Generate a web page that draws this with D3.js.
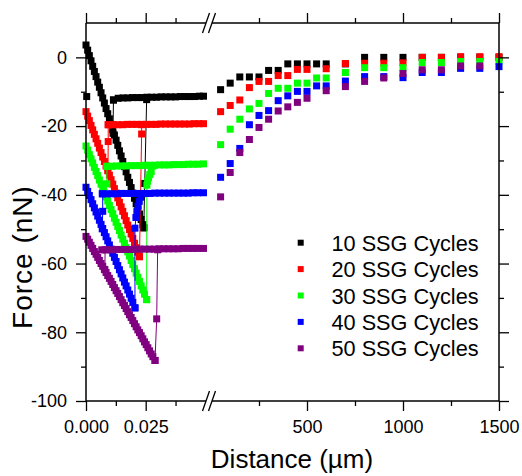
<!DOCTYPE html>
<html>
<head>
<meta charset="utf-8">
<script src="https://cdn.jsdelivr.net/npm/d3@7"></script>
<style>
body { margin: 0; background: #fff; }
text { font-family: "Liberation Sans", Arial, sans-serif; }
</style>
</head>
<body>
<svg id="chart" width="522" height="476"></svg>
<script>
// series labels and colours
var names = ["10 SSG Cycles", "20 SSG Cycles", "30 SSG Cycles", "40 SSG Cycles", "50 SSG Cycles"];
var colors = ["#000000", "#ff0000", "#00ff00", "#0000ff", "#800080"];

// axis ticks
var yMajor = [-100, -80, -60, -40, -20, 0];
var yMinor = [-90, -70, -50, -30, -10];
var nearMajor = [0, 0.025];
var nearMinor = [0.0125, 0.0375];
var farMajor = [500, 1000, 1500];
var farMinor = [250, 750, 1250];

// ---- near segment (distance in um, 0 - 0.05) ----
// approach curves
var approach10 = [[0,3.6],[.0007,2.1],[.0014,0.5],[.0021,-1.0],[.0028,-2.6],[.0035,-4.1],[.0042,-5.6],[.0049,-7.2],[.0056,-8.7],[.0063,-10.3],[.0070,-11.8],[.0077,-13.3],[.0084,-14.9],[.0091,-16.4],[.0098,-17.9],[.0105,-19.5],[.0112,-21.0],[.0119,-22.6],[.0126,-24.1],[.0133,-25.6],[.0140,-27.2],[.0147,-28.7],[.0154,-30.3],[.0161,-31.8],[.0168,-33.3],[.0175,-34.9],[.0182,-36.4],[.0189,-37.9],[.0196,-39.5],[.0203,-41.0],[.0210,-42.6],[.0217,-44.1],[.0224,-45.6],[.0231,-47.2],[.0238,-48.7],[.0242,-49.6]];
var approach20 = [[0,-15.8],[.0007,-17.1],[.0014,-18.4],[.0021,-19.8],[.0028,-21.1],[.0035,-22.4],[.0042,-23.7],[.0049,-25.0],[.0056,-26.4],[.0063,-27.7],[.0070,-29.0],[.0077,-30.3],[.0084,-31.6],[.0091,-33.0],[.0098,-34.3],[.0105,-35.6],[.0112,-36.9],[.0119,-38.2],[.0126,-39.5],[.0133,-40.9],[.0140,-42.2],[.0147,-43.5],[.0154,-44.8],[.0161,-46.1],[.0168,-47.5],[.0175,-48.8],[.0182,-50.1],[.0189,-51.4],[.0196,-52.7],[.0203,-54.1],[.0210,-55.4],[.0217,-56.7],[.0224,-58.0]];
var approach30 = [[0,-25.8],[.0007,-27.0],[.0014,-28.3],[.0021,-29.5],[.0028,-30.7],[.0035,-32.0],[.0042,-33.2],[.0049,-34.4],[.0056,-35.7],[.0063,-36.9],[.0070,-38.1],[.0077,-39.4],[.0084,-40.6],[.0091,-41.8],[.0098,-43.1],[.0105,-44.3],[.0112,-45.5],[.0119,-46.8],[.0126,-48.0],[.0133,-49.2],[.0140,-50.4],[.0147,-51.7],[.0154,-52.9],[.0161,-54.1],[.0168,-55.4],[.0175,-56.6],[.0182,-57.8],[.0189,-59.1],[.0196,-60.3],[.0203,-61.5],[.0210,-62.8],[.0217,-64.0],[.0224,-65.2],[.0231,-66.5],[.0238,-67.7],[.0245,-68.9],[.0254,-70.5]];
var approach40 = [[0,-37.8],[.0007,-39.0],[.0014,-40.2],[.0021,-41.4],[.0028,-42.6],[.0035,-43.8],[.0042,-45.0],[.0049,-46.2],[.0056,-47.4],[.0063,-48.6],[.0070,-49.8],[.0077,-51.0],[.0084,-52.2],[.0091,-53.4],[.0098,-54.6],[.0105,-55.8],[.0112,-57.0],[.0119,-58.2],[.0126,-59.4],[.0133,-60.6],[.0140,-61.8],[.0147,-63.0],[.0154,-64.2],[.0161,-65.4],[.0168,-66.5],[.0175,-67.7],[.0182,-68.9],[.0189,-70.1],[.0196,-71.3],[.0205,-72.9]];
var approach50 = [[0,-52.1],[.0007,-52.9],[.0014,-53.8],[.0021,-54.7],[.0028,-55.6],[.0035,-56.5],[.0042,-57.3],[.0049,-58.2],[.0056,-59.1],[.0063,-60.0],[.0070,-60.8],[.0077,-61.7],[.0084,-62.6],[.0091,-63.5],[.0098,-64.3],[.0105,-65.2],[.0112,-66.1],[.0119,-67.0],[.0126,-67.9],[.0133,-68.7],[.0140,-69.6],[.0147,-70.5],[.0154,-71.4],[.0161,-72.2],[.0168,-73.1],[.0175,-74.0],[.0182,-74.9],[.0189,-75.7],[.0196,-76.6],[.0203,-77.5],[.0210,-78.4],[.0217,-79.3],[.0224,-80.1],[.0231,-81.0],[.0238,-81.9],[.0245,-82.8],[.0252,-83.6],[.0259,-84.5],[.0266,-85.4],[.0273,-86.3],[.0280,-87.1],[.0289,-88.2]];

// retract plateaus
var flat10 = [[.0115,-12.4],[.0135,-11.9],[.0155,-11.8],[.0175,-11.8],[.0195,-11.7],[.0215,-11.7],[.0235,-11.7],[.0255,-11.6],[.0275,-11.6],[.0295,-11.6],[.0315,-11.5],[.0335,-11.5],[.0355,-11.5],[.0375,-11.5],[.0395,-11.4],[.0415,-11.4],[.0435,-11.4],[.0455,-11.4],[.0475,-11.3],[.0492,-11.3]];
var flat20 = [[.0093,-19.6],[.0113,-19.6],[.0133,-19.6],[.0153,-19.6],[.0173,-19.5],[.0193,-19.5],[.0213,-19.5],[.0233,-19.5],[.0253,-19.5],[.0273,-19.5],[.0293,-19.5],[.0313,-19.4],[.0333,-19.4],[.0353,-19.4],[.0373,-19.4],[.0393,-19.4],[.0413,-19.4],[.0433,-19.4],[.0453,-19.3],[.0473,-19.3],[.0492,-19.3]];
var flat30 = [[.0088,-31.7],[.0108,-31.7],[.0128,-31.6],[.0148,-31.6],[.0168,-31.6],[.0188,-31.5],[.0208,-31.5],[.0228,-31.5],[.0248,-31.4],[.0268,-31.4],[.0288,-31.4],[.0308,-31.3],[.0328,-31.3],[.0348,-31.3],[.0368,-31.2],[.0388,-31.2],[.0408,-31.2],[.0428,-31.1],[.0448,-31.1],[.0468,-31.1],[.0492,-31.0]];
var flat40 = [[.0068,-39.7],[.0088,-39.7],[.0108,-39.7],[.0128,-39.7],[.0148,-39.6],[.0168,-39.6],[.0188,-39.6],[.0208,-39.6],[.0228,-39.6],[.0248,-39.6],[.0268,-39.6],[.0288,-39.5],[.0308,-39.5],[.0328,-39.5],[.0348,-39.5],[.0368,-39.5],[.0388,-39.5],[.0408,-39.5],[.0428,-39.5],[.0448,-39.4],[.0468,-39.4],[.0492,-39.4]];
var flat50 = [[.0066,-56.0],[.0086,-56.0],[.0106,-56.0],[.0126,-55.9],[.0146,-55.9],[.0166,-55.9],[.0186,-55.9],[.0206,-55.8],[.0226,-55.8],[.0246,-55.8],[.0266,-55.8],[.0286,-55.8],[.0306,-55.7],[.0326,-55.7],[.0346,-55.7],[.0366,-55.7],[.0386,-55.7],[.0406,-55.6],[.0426,-55.6],[.0446,-55.6],[.0466,-55.6],[.0492,-55.6]];

// jumps joining approach and plateau
var links10 = [[[.0003,-11.4]], [[.0115,-12.4],[.0113,-22.1]], [[.0242,-49.6],[.0246,-36.7],[.0254,-12.3]]];
var links20 = [[[.0093,-19.6],[.0093,-24.5],[.0092,-32.2]], [[.0224,-58.0],[.0233,-22.3],[.0233,-19.6]]];
var links30 = [[[.0088,-31.7],[.0087,-36.8],[.0085,-40.1]], [[.0254,-70.5],[.0255,-37.2],[.0258,-36.0],[.0262,-35.0],[.0267,-34.1],[.0273,-33.3],[.0280,-31.6]]];
var links40 = [[[.0070,-39.7],[.0070,-44.8],[.0068,-49.9]], [[.0205,-72.9],[.0205,-49.7],[.0209,-46.6],[.0213,-44.9],[.0218,-43.3],[.0223,-41.9],[.0229,-40.7],[.0235,-39.7]]];
var links50 = [[[.0080,-56.0],[.0079,-61.8]], [[.0289,-88.2],[.0296,-76.1],[.0300,-56.0]]];

// ---- far segment (distance in um, 0 - 1500) ----
var far10 = [[50,-9.4],[100,-7.5],[150,-5.7],[200,-5.7],[250,-5.7],[300,-3.8],[350,-3.8],[400,-1.9],[450,-1.9],[500,-1.9],[550,-1.9],[600,-1.9],[700,-1.9],[800,0],[900,0],[1000,0],[1100,0],[1200,0],[1300,0],[1400,0],[1500,0]];
var far20 = [[50,-15.8],[100,-14.0],[150,-12.4],[200,-8.8],[250,-7.0],[300,-7.0],[350,-5.3],[400,-5.3],[450,-3.5],[500,-3.5],[600,-3.3],[700,-1.8],[800,-1.7],[900,-1.7],[1000,-1.6],[1100,0],[1200,0],[1300,0.2],[1400,0.2],[1500,0.2]];
var far30 = [[50,-25.4],[100,-20.9],[150,-18.0],[200,-15.0],[250,-13.4],[300,-10.5],[350,-9.0],[400,-9.0],[450,-7.5],[500,-7.5],[550,-6.0],[600,-6.0],[700,-4.4],[800,-3.0],[900,-3.0],[1000,-3.0],[1100,-1.5],[1200,-1.5],[1300,-1.2],[1400,-1.2],[1500,-1.2]];
var far40 = [[50,-34.9],[100,-30.9],[150,-26.5],[200,-19.6],[250,-16.9],[300,-15.5],[350,-12.6],[400,-11.2],[450,-9.9],[500,-9.9],[550,-8.3],[600,-8.3],[700,-6.9],[800,-5.6],[900,-5.6],[1000,-5.9],[1100,-4.4],[1200,-4.4],[1300,-3.2],[1400,-3.2],[1500,-2.7]];
var far50 = [[50,-40.6],[100,-33.5],[150,-27.7],[200,-23.9],[250,-20.4],[300,-18.0],[350,-15.6],[400,-14.4],[450,-13.1],[500,-11.9],[600,-9.7],[700,-8.5],[800,-7.0],[900,-6.0],[1000,-4.7],[1100,-3.6],[1200,-3.6],[1300,-2.5],[1400,-2.5]];

var series = [
    {approach: approach10, flat: flat10, links: links10, far: far10},
    {approach: approach20, flat: flat20, links: links20, far: far20},
    {approach: approach30, flat: flat30, links: links30, far: far30},
    {approach: approach40, flat: flat40, links: links40, far: far40},
    {approach: approach50, flat: flat50, links: links50, far: far50}
];

var svg = d3.select("#chart");
var pLeft = 86, pRight = 499, pTop = 23, pBottom = 401;
var breakLeft = 206, breakRight = 212;

var xNear = d3.scaleLinear().domain([0, 0.05]).range([pLeft, 205.4]);
var xFar = d3.scaleLinear().domain([0, 1500]).range([211, pRight]);
var y = d3.scaleLinear().domain([-100, 10]).range([pBottom, pTop]);

var sq = 7;

function drawSquares(g, pts, xs, color) {
    g.selectAll(null)
        .data(pts)
        .enter().append("rect")
        .attr("x", function(d) { return xs(d[0]) - sq / 2; })
        .attr("y", function(d) { return y(d[1]) - sq / 2; })
        .attr("width", sq)
        .attr("height", sq)
        .attr("fill", color);
}

function drawLine(g, pts, xs, color) {
    var line = d3.line()
        .x(function(d) { return xs(d[0]); })
        .y(function(d) { return y(d[1]); });
    g.append("path")
        .attr("d", line(pts))
        .attr("fill", "none")
        .attr("stroke", color)
        .attr("stroke-width", 1);
}

var plot = svg.append("g");
series.forEach(function(s, i) {
    var g = plot.append("g");
    var c = colors[i];
    s.links.forEach(function(l) {
        if (l.length > 1) drawLine(g, l, xNear, c);
    });
    drawLine(g, s.approach, xNear, c);
    drawLine(g, s.flat, xNear, c);
    drawSquares(g, s.approach, xNear, c);
    drawSquares(g, s.flat, xNear, c);
    s.links.forEach(function(l) {
        drawSquares(g, l, xNear, c);
    });
    drawSquares(g, s.far, xFar, c);
});

// axes
var axisG = svg.append("g").attr("class", "axes");
var plainNum = function(d) { return String(d); };

function styleAxis(g) {
    g.select(".domain").remove();
    g.selectAll("line").attr("stroke", "#000").attr("stroke-width", 1.3);
    g.selectAll("text").attr("fill", "#000").style("font-size", "18px")
        .style("font-family", "'Liberation Sans', Arial, sans-serif");
}

// left / right y axes
axisG.append("g").attr("transform", "translate(" + pLeft + ",0)")
    .call(d3.axisLeft(y).tickValues(yMajor).tickSize(10).tickPadding(9).tickFormat(plainNum))
    .call(styleAxis);
axisG.append("g").attr("transform", "translate(" + pLeft + ",0)")
    .call(d3.axisLeft(y).tickValues(yMinor).tickSize(5).tickFormat(""))
    .call(styleAxis);
axisG.append("g").attr("transform", "translate(" + pRight + ",0)")
    .call(d3.axisRight(y).tickValues(yMajor).tickSize(10).tickFormat(""))
    .call(styleAxis);
axisG.append("g").attr("transform", "translate(" + pRight + ",0)")
    .call(d3.axisRight(y).tickValues(yMinor).tickSize(5).tickFormat(""))
    .call(styleAxis);

// bottom axes
axisG.append("g").attr("transform", "translate(0," + pBottom + ")")
    .call(d3.axisBottom(xNear).tickValues(nearMajor).tickSize(10).tickPadding(9).tickFormat(d3.format(".3f")))
    .call(styleAxis);
axisG.append("g").attr("transform", "translate(0," + pBottom + ")")
    .call(d3.axisBottom(xNear).tickValues(nearMinor).tickSize(5).tickFormat(""))
    .call(styleAxis);
axisG.append("g").attr("transform", "translate(0," + pBottom + ")")
    .call(d3.axisBottom(xFar).tickValues(farMajor).tickSize(10).tickPadding(9).tickFormat(plainNum))
    .call(styleAxis);
axisG.append("g").attr("transform", "translate(0," + pBottom + ")")
    .call(d3.axisBottom(xFar).tickValues(farMinor).tickSize(5).tickFormat(""))
    .call(styleAxis);

// top axes
axisG.append("g").attr("transform", "translate(0," + pTop + ")")
    .call(d3.axisTop(xNear).tickValues(nearMajor).tickSize(10).tickFormat(""))
    .call(styleAxis);
axisG.append("g").attr("transform", "translate(0," + pTop + ")")
    .call(d3.axisTop(xNear).tickValues(nearMinor).tickSize(5).tickFormat(""))
    .call(styleAxis);
axisG.append("g").attr("transform", "translate(0," + pTop + ")")
    .call(d3.axisTop(xFar).tickValues(farMajor).tickSize(10).tickFormat(""))
    .call(styleAxis);
axisG.append("g").attr("transform", "translate(0," + pTop + ")")
    .call(d3.axisTop(xFar).tickValues(farMinor).tickSize(5).tickFormat(""))
    .call(styleAxis);

// frame with the axis break
var frame = [
    [pLeft, pTop, pLeft, pBottom],
    [pRight, pTop, pRight, pBottom],
    [pLeft, pBottom, breakLeft, pBottom],
    [breakRight, pBottom, pRight, pBottom],
    [pLeft, pTop, breakLeft, pTop],
    [breakRight, pTop, pRight, pTop]
];
frame.forEach(function(f) {
    axisG.append("line")
        .attr("x1", f[0]).attr("y1", f[1]).attr("x2", f[2]).attr("y2", f[3])
        .attr("stroke", "#000").attr("stroke-width", 1.5);
});
[pTop, pBottom].forEach(function(yy) {
    [breakLeft, breakRight].forEach(function(xx) {
        axisG.append("line")
            .attr("x1", xx - 3.5).attr("y1", yy + 10)
            .attr("x2", xx + 3.5).attr("y2", yy - 10)
            .attr("stroke", "#000").attr("stroke-width", 1.3);
    });
});

// axis titles
svg.append("text")
    .attr("x", 292)
    .attr("y", 468)
    .attr("text-anchor", "middle")
    .style("font-size", "26px")
    .text("Distance (µm)");
svg.append("text")
    .attr("transform", "translate(32,257) rotate(-90)")
    .attr("text-anchor", "middle")
    .style("font-size", "28px")
    .style("letter-spacing", "1px")
    .text("Force (nN)");

// legend
var legend = svg.append("g");
names.forEach(function(n, i) {
    var cy = 242.7 + i * 26.4;
    legend.append("rect")
        .attr("x", 300.7 - 3).attr("y", cy - 3)
        .attr("width", 6).attr("height", 6)
        .attr("fill", colors[i]);
    legend.append("text")
        .attr("x", 331.5)
        .attr("y", cy + 8)
        .style("font-size", "21.7px")
        .text(n);
});
</script>
</body>
</html>
